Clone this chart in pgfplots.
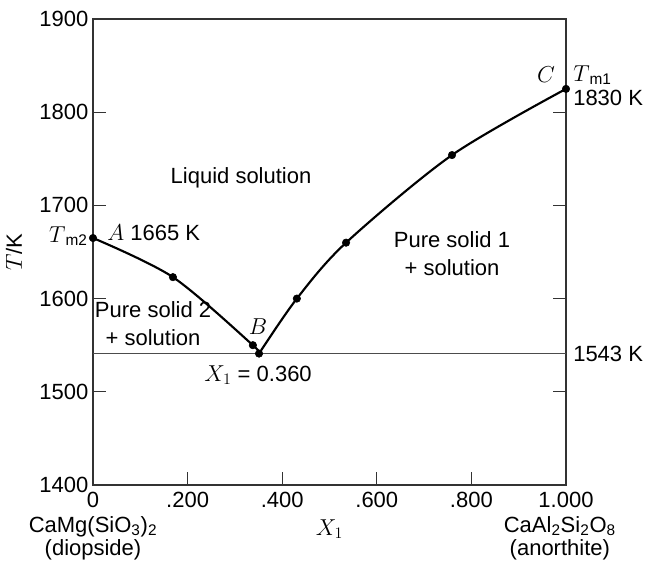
\documentclass[border=0pt]{standalone}
\usepackage{pgfplots}
\pgfplotsset{compat=1.18}
\usepackage{fontspec}
\setmainfont{Liberation Sans}
\usetikzlibrary{calc}
\begin{document}
\begin{tikzpicture}
\begin{axis}[
  scale only axis,
  width=354.75pt, height=349.5pt,
  xmin=0, xmax=1, ymin=1400, ymax=1900,
  xtick={0,0.2,0.4,0.6,0.8,1.0},
  xticklabels={0,.200,.400,.600,.800,1.000},
  ytick={1400,1500,1600,1700,1800,1900},
  yticklabel style={/pgf/number format/1000 sep={}},
  /pgf/number format/assume math mode=true,
  tick align=inside,
  major tick length=10pt,
  xtick pos=bottom,
  ytick pos=both,
  yticklabel pos=left,
  axis line style={line width=0.9pt, black!80},
  tick style={line width=0.9pt, black!80},
  tick label style={font=\fontsize{16.5}{19}\selectfont},
  xticklabel style={yshift=-2pt},
  label style={font=\fontsize{16.5}{19}\selectfont},
  xlabel={$X_1$},
  ylabel={$T$/K},
  xlabel style={yshift=-2pt},
  ylabel style={yshift=6pt},
  clip=false,
]
\addplot[black!70, line width=0.6pt] coordinates {(0,1541) (1,1541)};
\addplot[black, line width=1.6pt, smooth, tension=0.5] coordinates {
(0,1665) (0.169,1623) (0.338,1550) (0.351,1541)};
\addplot[black, line width=1.6pt, smooth, tension=0.5] coordinates {
(0.351,1541) (0.431,1600) (0.535,1660) (0.759,1754) (1.0,1825)};
\addplot[only marks, mark=*, mark size=2.8pt, black] coordinates {
(0,1665) (0.169,1623) (0.338,1550) (0.351,1541) (0.431,1600) (0.535,1660) (0.759,1754) (1.0,1825)};
\begin{scope}[every node/.style={font=\fontsize{16.5}{21}\selectfont}]
\node at (axis cs:0.313,1730) {Liquid solution};
\node[align=center] at (axis cs:0.759,1648) {Pure solid 1\\+ solution};
\node[align=center] at (axis cs:0.127,1573) {Pure solid 2\\+ solution};
\node[anchor=west, inner sep=1pt] at (axis cs:0.027,1671) {$A$ 1665 K};
\node[anchor=east, inner sep=1pt] at (axis cs:-0.008,1667) {$T$\textsubscript{m2}};
\node at (axis cs:0.349,1570) {$B$};
\node at (axis cs:0.349,1518) {$X_1$ = 0.360};
\node at (axis cs:0.958,1840) {$C$};
\node[anchor=west, inner sep=1pt] at (axis cs:1.012,1840) {$T$\textsubscript{m1}};
\node[anchor=west, inner sep=1pt] at (axis cs:1.012,1815) {1830 K};
\node[anchor=west, inner sep=1pt] at (axis cs:1.012,1541) {1543 K};
\node[align=center, font=\fontsize{16.5}{17}\selectfont, inner sep=1pt] at (axis cs:0,1343) {CaMg(SiO\textsubscript{3})\textsubscript{2}\\(diopside)};
\node[align=center, font=\fontsize{16.5}{17}\selectfont, inner sep=1pt] at (axis cs:0.987,1343) {CaAl\textsubscript{2}Si\textsubscript{2}O\textsubscript{8}\\(anorthite)};
\end{scope}
\end{axis}
\pgfresetboundingbox
\path ($(current axis.south west)+(-69.75pt,-57pt)$) rectangle ($(current axis.north east)+(60pt,14.25pt)$);
\end{tikzpicture}
\end{document}
